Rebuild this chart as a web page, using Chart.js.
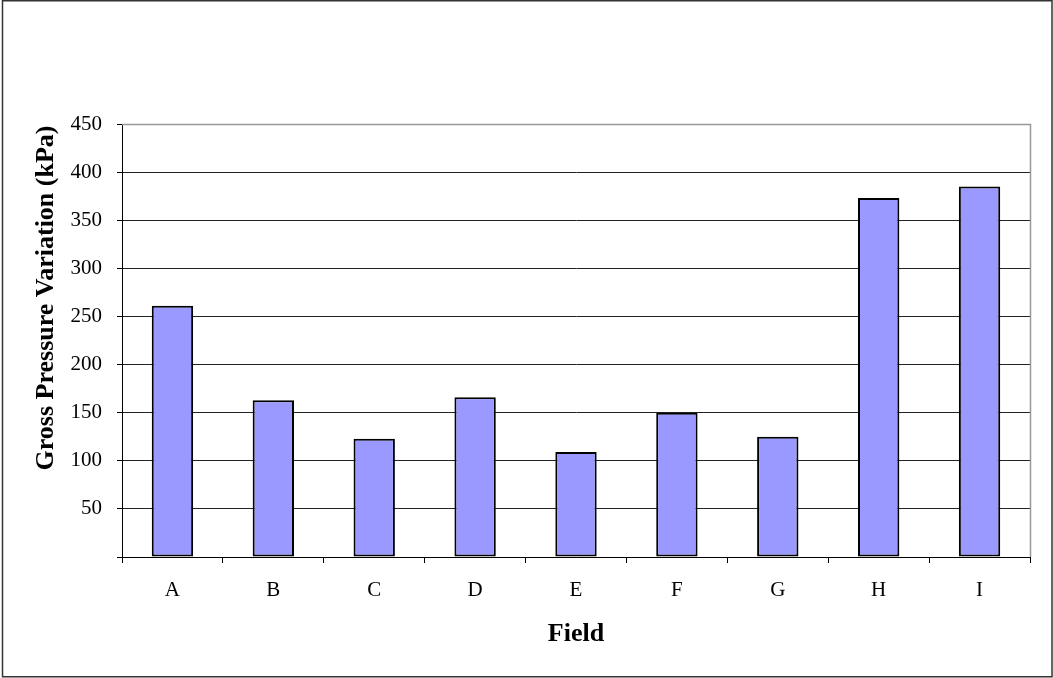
<!DOCTYPE html>
<html>
<head>
<meta charset="utf-8">
<script src="https://cdn.jsdelivr.net/npm/chart.js@4.4.1/dist/chart.umd.min.js"></script>
<style>
  html, body { margin: 0; padding: 0; background: #fff; }
  #wrap { width: 1053px; height: 678px; position: relative; }
</style>
</head>
<body>
<div id="wrap"><canvas id="chart" width="1053" height="678"></canvas></div>
<script>
// values
const fields = ['A', 'B', 'C', 'D', 'E', 'F', 'G', 'H', 'I'];
const pressureVariation = [261, 163, 123, 166, 109, 150, 125, 373, 385];
const yTicks = [0, 50, 100, 150, 200, 250, 300, 350, 400, 450];
const yTitle = 'Gross Pressure Variation (kPa)';

const serif = "'Liberation Serif', 'Times New Roman', serif";

// outer frame, grey plot-area edges (top and right), y title centred on the whole chart like Excel does
const framePlugin = {
  id: 'frame',
  beforeDatasetsDraw(chart) {
    const { ctx, chartArea } = chart;
    ctx.save();
    ctx.strokeStyle = '#999';
    ctx.lineWidth = 1.5;
    ctx.beginPath();
    ctx.moveTo(chartArea.left, chartArea.top + 0.5);
    ctx.lineTo(chartArea.right + 0.5, chartArea.top + 0.5);
    ctx.lineTo(chartArea.right + 0.5, chartArea.bottom);
    ctx.stroke();
    ctx.restore();
  },
  afterDraw(chart) {
    const { ctx } = chart;
    ctx.save();
    ctx.strokeStyle = '#333';
    ctx.lineWidth = 1.5;
    ctx.strokeRect(2.5, 0.75, 1049.5, 676);

    ctx.translate(46, 298);
    ctx.rotate(-Math.PI / 2);
    ctx.fillStyle = '#000';
    ctx.font = 'bold 26px ' + serif;
    ctx.textAlign = 'center';
    ctx.textBaseline = 'middle';
    ctx.fillText(yTitle, 0, 0);
    ctx.restore();
  }
};

const ctx = document.getElementById('chart').getContext('2d');
new Chart(ctx, {
  type: 'bar',
  data: {
    labels: fields,
    datasets: [
      {
        label: 'Gross Pressure Variation',
        data: pressureVariation,
        backgroundColor: '#9999ff',
        borderColor: '#000',
        borderWidth: 2,
        borderSkipped: false,
        barPercentage: 0.41,
        categoryPercentage: 1.0,
      },
    ],
  },
  options: {
    responsive: false,
    animation: false,
    layout: { padding: { left: 0, top: 124, right: 23, bottom: 0 } },
    plugins: {
      legend: { display: false },
      tooltip: { enabled: false },
    },
    scales: {
      x: {
        afterFit(scale) { scale.height = 121; },
        grid: {
          drawOnChartArea: false,
          drawTicks: true,
          tickLength: 6,
          color: '#000',
        },
        border: { color: '#000', width: 1 },
        ticks: {
          color: '#000',
          font: { family: serif, size: 21 },
          padding: 15,
        },
        title: {
          display: true,
          text: 'Field',
          color: '#000',
          font: { family: serif, size: 26, weight: 'bold' },
          padding: { top: 0, bottom: 28 },
        },
      },
      y: {
        min: 0,
        max: 450,
        afterFit(scale) { scale.width = 122; },
        afterBuildTicks(scale) {
          scale.ticks = yTicks.map(v => ({ value: v }));
        },
        grid: {
          color: ctx => (ctx.tick && ctx.tick.value === 450 ? 'rgba(0,0,0,0)' : '#222'),
          tickColor: '#000',
          tickLength: 5,
        },
        border: { color: '#000', width: 1 },
        ticks: {
          color: '#000',
          font: { family: serif, size: 21 },
          padding: 15,
          callback: v => (v === 0 ? '' : v),
        },
        title: { display: false },
      },
    },
  },
  plugins: [framePlugin],
});
</script>
</body>
</html>
